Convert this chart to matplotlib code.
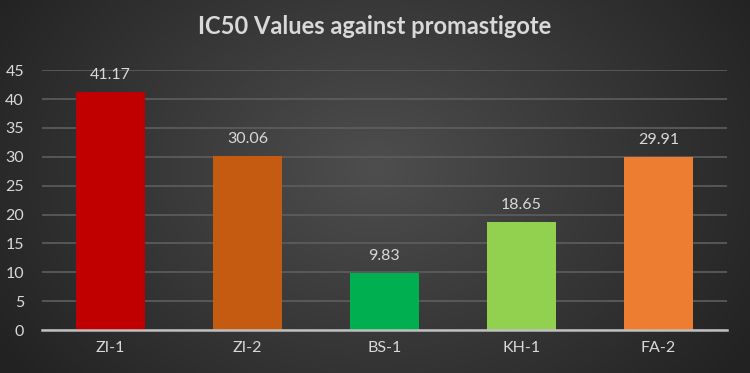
import numpy as np
import matplotlib
matplotlib.use("Agg")
import matplotlib.pyplot as plt

categories = ["ZI-1", "ZI-2", "BS-1", "KH-1", "FA-2"]
values = [41.17, 30.06, 9.83, 18.65, 29.91]
bar_colors = ["#C00000", "#C55A11", "#00B050", "#92D050", "#ED7D31"]
yticks = [0, 5, 10, 15, 20, 25, 30, 35, 40, 45]
title = "IC50 Values against promastigote"

plt.rcParams['font.family'] = ['Lato', 'DejaVu Sans']
txt = "#D9D9D9"

fig = plt.figure(figsize=(7.5, 3.73), dpi=100)

# radial gradient background
bg = fig.add_axes([0, 0, 1, 1], zorder=-10)
H, W = 373, 750
yy, xx = np.mgrid[0:H, 0:W]
cx, cy = W * 0.5, H * 0.45
r = np.sqrt(((xx - cx) / (W * 0.6)) ** 2 + ((yy - cy) / (H * 0.9)) ** 2)
r = np.clip(r, 0, 1)
inner = np.array([0x4e, 0x4e, 0x4e]) / 255
outer = np.array([0x22, 0x22, 0x22]) / 255
img = inner[None, None, :] * (1 - r[..., None]) + outer[None, None, :] * r[..., None]
bg.imshow(img, aspect="auto", extent=[0, 1, 0, 1])
bg.axis("off")

ax = fig.add_axes([0.056, 0.115, 0.913, 0.697])
ax.patch.set_alpha(0)
x = np.arange(len(categories))
bars = ax.bar(x, values, width=0.5, color=bar_colors, zorder=3)
for xi, v in zip(x, values):
    ax.text(xi, v + 1.8, f"{v:.2f}", ha="center", va="bottom", color=txt, fontsize=11.5)

ax.set_xlim(-0.5, len(categories) - 0.5)
ax.set_ylim(0, 45)
ax.set_yticks(yticks)
ax.set_yticklabels([str(t) for t in yticks])
ax.set_xticks(x)
ax.set_xticklabels(categories)
ax.tick_params(axis="both", length=0, colors=txt, labelsize=11.5)
ax.tick_params(axis="y", pad=13)
ax.tick_params(axis="x", pad=8)
ax.yaxis.grid(True, color="#5e5e5e", linewidth=1.2, zorder=0)
for s in ["top", "right", "left"]:
    ax.spines[s].set_visible(False)
ax.spines["bottom"].set_color("#BFBFBF")
ax.spines["bottom"].set_linewidth(1.8)
ax.spines["bottom"].set_zorder(4)

fig.text(0.5, 0.93, title, ha="center", va="center", color=txt, fontsize=17, fontweight="bold")

fig.savefig("out.png", dpi=100)
